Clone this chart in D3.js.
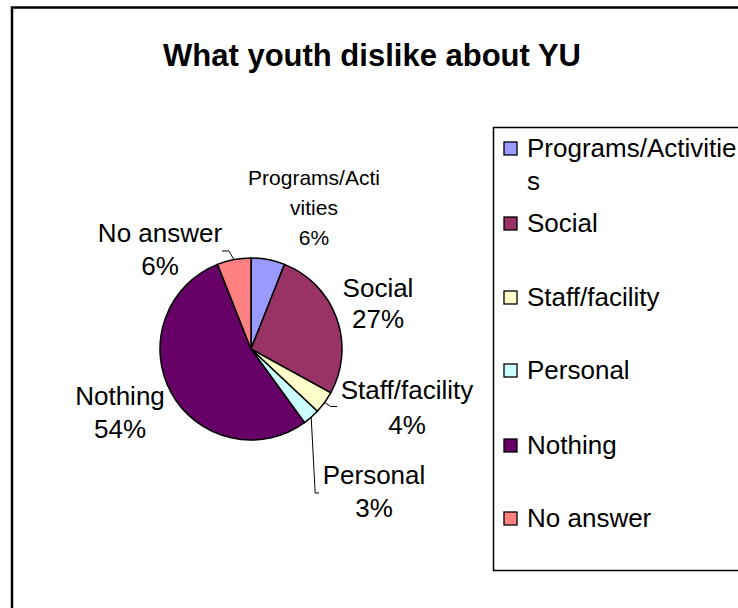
<!DOCTYPE html>
<html>
<head>
<meta charset="utf-8">
<script src="https://cdn.jsdelivr.net/npm/d3@7"></script>
<style>
  html, body { margin: 0; padding: 0; background: #fff; }
  svg { display: block; }
  text { font-family: "Liberation Sans", Arial, sans-serif; fill: #000; }
</style>
</head>
<body>
<svg id="chart" width="738" height="608"></svg>
<script>
// Survey shares (percent) for what youth dislike about YU
const categories = ["Programs/Activities", "Social", "Staff/facility", "Personal", "Nothing", "No answer"];
const values = [6, 27, 4, 3, 54, 6];
const colors = ["#9999FF", "#993366", "#FFFFCC", "#CCFFFF", "#660066", "#FF8080"];
const legendLines = [["Programs/Activitie", "s"], ["Social"], ["Staff/facility"], ["Personal"], ["Nothing"], ["No answer"]];
const sliceLabelLines = [["Programs/Acti", "vities"], ["Social"], ["Staff/facility"], ["Personal"], ["Nothing"], ["No answer"]];

const svg = d3.select("#chart");
const W = 738, H = 608;

// chart area frame
svg.append("rect")
  .attr("x", 12).attr("y", 7.5)
  .attr("width", W).attr("height", H)
  .attr("fill", "#fff").attr("stroke", "#000").attr("stroke-width", 2.5);

// title
svg.append("text")
  .attr("x", 372).attr("y", 66)
  .attr("text-anchor", "middle")
  .attr("font-size", 31).attr("font-weight", "bold")
  .text("What youth dislike about YU");

// pie
const cx = 251, cy = 349, R = 91;
const data = categories.map((c, i) => ({ name: c, value: values[i], color: colors[i], i }));
const pie = d3.pie().value(d => d.value).sort(null);
const arcs = pie(data);
const arc = d3.arc().innerRadius(0).outerRadius(R);

const g = svg.append("g").attr("transform", `translate(${cx},${cy})`);
g.selectAll("path.slice")
  .data(arcs)
  .join("path")
  .attr("class", "slice")
  .attr("d", arc)
  .attr("fill", d => d.data.color)
  .attr("stroke", "#000")
  .attr("stroke-width", 1.5);

// slice labels: name lines then percent
const labelSpec = [
  { x: 314, y: 185, size: 21, lh: 30 },
  { x: 378, y: 297, size: 26, lh: 31 },
  { x: 407, y: 399, size: 26, lh: 35 },
  { x: 374, y: 484, size: 26, lh: 33 },
  { x: 120, y: 405, size: 26, lh: 33 },
  { x: 160, y: 242, size: 26, lh: 33 }
];
arcs.forEach((a, i) => {
  const s = labelSpec[i];
  const lines = sliceLabelLines[i].concat([d3.format(".0f")(a.data.value) + "%"]);
  const t = svg.append("text")
    .attr("text-anchor", "middle")
    .attr("font-size", s.size);
  lines.forEach((ln, k) => {
    t.append("tspan").attr("x", s.x).attr("y", s.y + k * s.lh).text(ln);
  });
});

// leader lines from slice edges to the small-slice labels
const edge = (a, r) => {
  const m = (a.startAngle + a.endAngle) / 2;
  return [cx + r * Math.sin(m), cy - r * Math.cos(m)];
};
const leaders = [
  { i: 2, pts: p => [p, [p[0] + 6, p[1] + 4], [337, p[1] + 4]] },
  { i: 3, pts: p => [p, [p[0] + 4, 493], [319, 493]] },
  { i: 5, pts: p => [p, [p[0] - 5, 251], [p[0] - 12, 251]] }
];
leaders.forEach(l => {
  const p = edge(arcs[l.i], R);
  svg.append("path")
    .attr("d", d3.line()(l.pts(p)))
    .attr("fill", "none")
    .attr("stroke", "#000")
    .attr("stroke-width", 1);
});

// legend
svg.append("rect")
  .attr("x", 493.5).attr("y", 127.5)
  .attr("width", 300).attr("height", 443)
  .attr("fill", "#fff").attr("stroke", "#000").attr("stroke-width", 1.5);

const legendY = [157, 232, 306, 379, 454, 527];
data.forEach((d, i) => {
  const y = legendY[i];
  svg.append("rect")
    .attr("x", 504).attr("y", y - 15)
    .attr("width", 13).attr("height", 13)
    .attr("fill", d.color).attr("stroke", "#000").attr("stroke-width", 1.3);
  const t = svg.append("text").attr("font-size", 26);
  legendLines[i].forEach((ln, k) => {
    t.append("tspan").attr("x", 527).attr("y", y + k * 33).text(ln);
  });
});
</script>
</body>
</html>
